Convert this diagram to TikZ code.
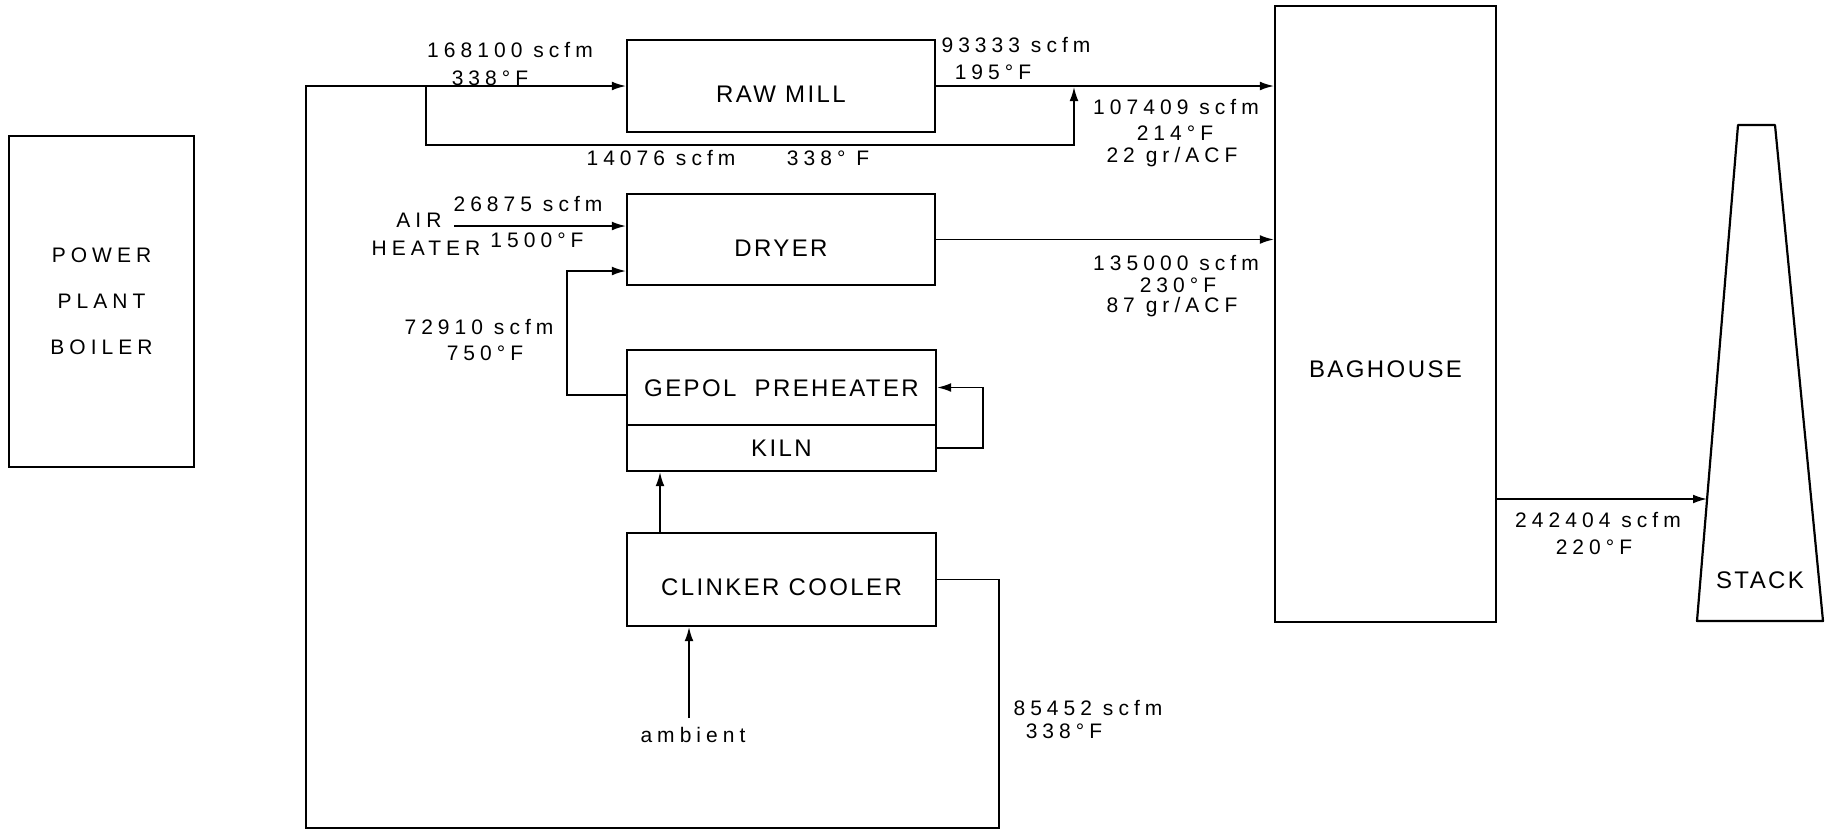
\documentclass[tikz,border=0pt]{standalone}
\usepackage{fontspec}
\setmainfont{Liberation Sans}
\newfontfamily\lblfont[LetterSpace=24]{Liberation Sans}
\newfontfamily\boxfont[LetterSpace=10]{Liberation Sans}
\usetikzlibrary{arrows.meta}
\newcommand\bxt[2]{\raisebox{\dimexpr-#1-4.3pt\relax}[0pt][0pt]{#2}}
\begin{document}
\begin{tikzpicture}[x=0.5pt,y=-0.5pt,
  box/.style={draw, line width=1.1pt, inner sep=0pt, align=center,
    font=\boxfont\fontsize{12}{14}\selectfont},
  lbl/.style={inner sep=0pt, font=\lblfont\fontsize{10.5}{12}\selectfont},
  flow/.style={line width=0.8pt},
  arr/.style={flow, -{Latex[length=7pt,width=4.4pt]}}]
\useasboundingbox (0,0) rectangle (1832,832);

% boxes
\node[box, minimum width=92.5pt, minimum height=165.5pt,
  font=\lblfont\fontsize{10.5}{23}\selectfont] (boiler) at (101.5,301.5)
  {POWER\\PLANT\\BOILER};
\node[box, minimum width=154pt, minimum height=46pt] (raw) at (781,86) {\bxt{4pt}{RAW MILL}};
\node[box, minimum width=154pt, minimum height=45.5pt] (dryer) at (781,239.5) {\bxt{4pt}{DRYER}};
\node[box, minimum width=154.5pt, minimum height=37.5pt] (pre) at (781.5,387.5) {\bxt{0pt}{GEPOL\ \ PREHEATER}};
\node[box, minimum width=154.5pt, minimum height=23pt] (kiln) at (781.5,448) {\bxt{0pt}{KILN}};
\node[box, minimum width=154.5pt, minimum height=46.5pt] (cooler) at (781.5,579.5) {\bxt{3.75pt}{CLINKER COOLER}};
\node[box, minimum width=110.5pt, minimum height=308pt] (bag) at (1385.5,314) {\bxt{27.5pt}{BAGHOUSE}};

% stack
\draw[line width=1.1pt, line join=round] (1697,621) -- (1738,125) -- (1775,125) -- (1823,621) -- cycle;
\node[inner sep=0pt, font=\boxfont\fontsize{12}{14}\selectfont] (stack) at (1760,580) {STACK};
\coordinate (stk) at (1707,499);

% coordinates
\coordinate (lp1) at (999,828);
\coordinate (lp2) at (306,828);
\coordinate (bp0) at (426,86);
\coordinate (bp1) at (1074,145);
\coordinate (jn) at (1074,87);
\coordinate (ah) at (454,226);
\coordinate (p2) at (567,271);
\coordinate (kl) at (983,0);
\coordinate (ck) at (660,0);
\coordinate (am) at (689,718);

% connectors
\draw[arr] (cooler.east) -| (lp1) -- (lp2) |- (raw.west);
\draw[arr] (bp0) |- (bp1) -- (jn);
\draw[arr] (raw.east) -- (raw.east -| bag.west);
\draw[arr] (ah) -- (ah -| dryer.west);
\draw[arr] ([yshift=-3.75pt]pre.west) -| (p2) -- (p2 -| dryer.west);
\draw[arr] (dryer.east) -- (dryer.east -| bag.west);
\draw[arr] (kiln.east) -| (kl |- pre.east) -- (pre.east);
\draw[arr] (ck |- cooler.north) -- (ck |- kiln.south);
\draw[arr] (am) -- (am |- cooler.south);
\draw[arr] (bag.east |- stk) -- (stk);

% labels
\node[lbl] (l1a) at (510,50) {168100 scfm};
\node[lbl] (l1b) at (490,78) {338°F};
\node[lbl] (l2a) at (661,158) {14076 scfm};
\node[lbl] (l2b) at (828,158) {338° F};
\node[lbl] (l3a) at (1016,45) {93333 scfm};
\node[lbl] (l3b) at (993,72) {195°F};
\node[lbl] (l4a) at (1176,107) {107409 scfm};
\node[lbl] (l4b) at (1175,133) {214°F};
\node[lbl] (l4c) at (1172,157) {22 gr/ACF};
\node[lbl] (air) at (419,220) {AIR};
\node[lbl] (heater) at (426,248) {HEATER};
\node[lbl] (l5a) at (528,204) {26875 scfm};
\node[lbl] (l5b) at (537,240) {1500°F};
\node[lbl] (l6a) at (479,327) {72910 scfm};
\node[lbl] (l6b) at (485,353) {750°F};
\node[lbl] (l7a) at (1176,263) {135000 scfm};
\node[lbl] (l7b) at (1178,285) {230°F};
\node[lbl] (l7c) at (1172,307) {87 gr/ACF};
\node[lbl] (l8a) at (1088,708) {85452 scfm};
\node[lbl] (l8b) at (1064,731) {338°F};
\node[lbl] (l9a) at (1598,520) {242404 scfm};
\node[lbl] (l9b) at (1594,547) {220°F};
\node[lbl] (amb) at (693,735) {ambient};
\end{tikzpicture}
\end{document}
